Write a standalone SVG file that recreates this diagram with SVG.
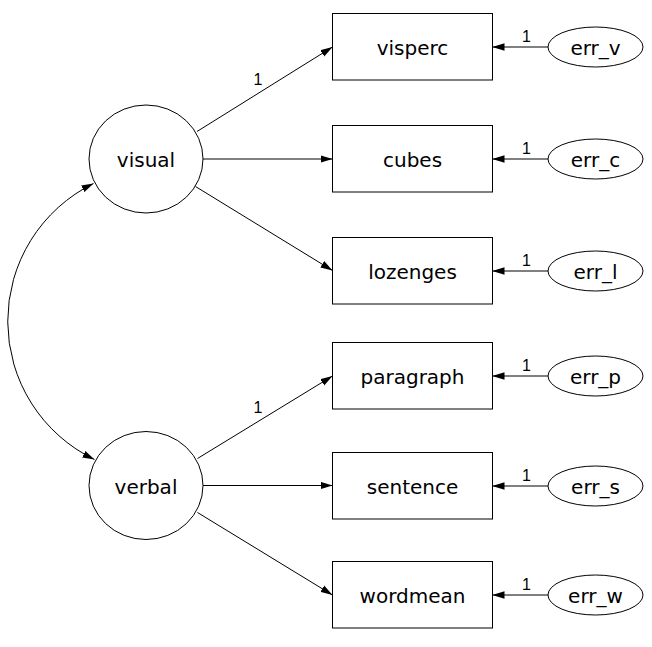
<svg xmlns="http://www.w3.org/2000/svg" width="652" height="647" viewBox="0 0 652 647">
<style>
  .shape { fill: #ffffff; stroke: #000000; stroke-width: 1; }
  .lbl { font-family: "DejaVu Sans", sans-serif; font-size: 20px; fill: #000000; text-anchor: middle; }
  .num { font-family: "Liberation Sans", Arial, sans-serif; font-size: 16px; fill: #000000; text-anchor: middle; }
  .conn { fill: none; stroke: #000000; stroke-width: 1; marker-end: url(#ah); }
</style>
<defs>
  <marker id="ah" markerUnits="userSpaceOnUse" markerWidth="12" markerHeight="8" viewBox="0 0 12 8" refX="12" refY="4" orient="auto-start-reverse">
    <path d="M0,0.3 L12,4 L0,7.7 z" fill="#000000"/>
  </marker>
</defs>
<rect width="652" height="647" fill="#ffffff"/>

<g id="connectors">
  <line class="conn" x1="197" y1="131.5" x2="332.5" y2="47"/>
  <line class="conn" x1="203" y1="159" x2="332.5" y2="159"/>
  <line class="conn" x1="195.5" y1="186.5" x2="332.5" y2="270.5"/>
  <line class="conn" x1="197.5" y1="458.5" x2="332.5" y2="376"/>
  <line class="conn" x1="203" y1="485.5" x2="332.5" y2="485.5"/>
  <line class="conn" x1="197.5" y1="512.5" x2="332.5" y2="595"/>
  <line class="conn" x1="548" y1="47" x2="492.5" y2="47"/>
  <line class="conn" x1="548" y1="159" x2="492.5" y2="159"/>
  <line class="conn" x1="548" y1="271" x2="492.5" y2="271"/>
  <line class="conn" x1="548" y1="376" x2="492.5" y2="376"/>
  <line class="conn" x1="548" y1="486" x2="492.5" y2="486"/>
  <line class="conn" x1="548" y1="595" x2="492.5" y2="595"/>
  <path class="conn" style="marker-start: url(#ah);" d="M93.5,183.5 A153.5,153.5 0 0 0 94.5,459.5"/>
  <text class="num" x="258" y="85">1</text>
  <text class="num" x="258" y="413">1</text>
  <text class="num" x="526.5" y="42">1</text>
  <text class="num" x="526.5" y="154">1</text>
  <text class="num" x="526.5" y="266">1</text>
  <text class="num" x="526.5" y="371">1</text>
  <text class="num" x="526.5" y="481">1</text>
  <text class="num" x="526.5" y="590">1</text>
</g>

<g id="visual">
  <ellipse class="shape" cx="146" cy="159" rx="57" ry="54"/>
  <text class="lbl" x="146" y="167">visual</text>
</g>
<g id="verbal">
  <ellipse class="shape" cx="146" cy="485.5" rx="57" ry="54"/>
  <text class="lbl" x="146" y="493.5">verbal</text>
</g>

<g id="visperc">
  <rect class="shape" x="332.5" y="13.5" width="160" height="66.5"/>
  <text class="lbl" x="412.5" y="55">visperc</text>
</g>
<g id="cubes">
  <rect class="shape" x="332.5" y="125.5" width="160" height="66.5"/>
  <text class="lbl" x="412.5" y="167">cubes</text>
</g>
<g id="lozenges">
  <rect class="shape" x="332.5" y="237.5" width="160" height="66.5"/>
  <text class="lbl" x="412.5" y="279">lozenges</text>
</g>
<g id="paragraph">
  <rect class="shape" x="332.5" y="342.5" width="160" height="66.5"/>
  <text class="lbl" x="412.5" y="384">paragraph</text>
</g>
<g id="sentence">
  <rect class="shape" x="332.5" y="452.5" width="160" height="66.5"/>
  <text class="lbl" x="412.5" y="494">sentence</text>
</g>
<g id="wordmean">
  <rect class="shape" x="332.5" y="561.5" width="160" height="66.5"/>
  <text class="lbl" x="412.5" y="603">wordmean</text>
</g>

<g id="err_v">
  <ellipse class="shape" cx="595.5" cy="47" rx="47.5" ry="20"/>
  <text class="lbl" x="595.5" y="55">err_v</text>
</g>
<g id="err_c">
  <ellipse class="shape" cx="595.5" cy="159" rx="47.5" ry="20"/>
  <text class="lbl" x="595.5" y="167">err_c</text>
</g>
<g id="err_l">
  <ellipse class="shape" cx="595.5" cy="271" rx="47.5" ry="20"/>
  <text class="lbl" x="595.5" y="279">err_l</text>
</g>
<g id="err_p">
  <ellipse class="shape" cx="595.5" cy="376" rx="47.5" ry="20"/>
  <text class="lbl" x="595.5" y="384">err_p</text>
</g>
<g id="err_s">
  <ellipse class="shape" cx="595.5" cy="486" rx="47.5" ry="20"/>
  <text class="lbl" x="595.5" y="494">err_s</text>
</g>
<g id="err_w">
  <ellipse class="shape" cx="595.5" cy="595" rx="47.5" ry="20"/>
  <text class="lbl" x="595.5" y="603">err_w</text>
</g>
</svg>
